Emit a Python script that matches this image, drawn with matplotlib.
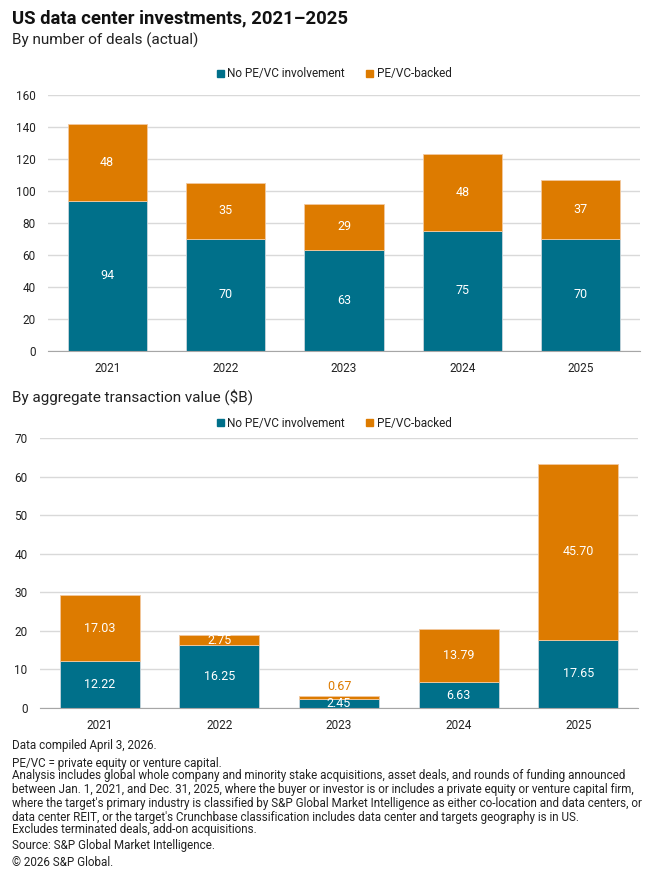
import matplotlib.pyplot as plt
from matplotlib.patches import Patch

plt.rcParams['font.family'] = ['Roboto', 'DejaVu Sans']

# Data
years = ['2021', '2022', '2023', '2024', '2025']
deals_no_pe = [94, 70, 63, 75, 70]
deals_pe = [48, 35, 29, 48, 37]
value_no_pe = [12.22, 16.25, 2.45, 6.63, 17.65]
value_pe = [17.03, 2.75, 0.67, 13.79, 45.70]

TEAL = '#00708a'
ORANGE = '#dd7b00'
GRID = '#d9d9d9'
TXT = '#222222'

W, H = 660, 877
fig = plt.figure(figsize=(W / 100, H / 100), dpi=100)


def px_axes(left, top, right, bottom):
    return fig.add_axes([left / W, 1 - bottom / H, (right - left) / W, (bottom - top) / H])


def draw_panel(ax, no_pe, pe, ymax, step, fmt, small_above=None):
    x = range(len(years))
    ax.bar(x, no_pe, width=0.67, color=TEAL, edgecolor='#c9d6dc', linewidth=0.6, zorder=3)
    ax.bar(x, pe, width=0.67, bottom=no_pe, color=ORANGE, edgecolor='#f2c9a0', linewidth=0.6, zorder=3)
    ax.set_xlim(-0.5, len(years) - 0.5)
    ax.set_ylim(0, ymax)
    ax.set_yticks(range(0, ymax + 1, step))
    ax.set_xticks(list(x))
    ax.set_xticklabels(years)
    ax.tick_params(length=0, labelsize=8.5, colors=TXT)
    ax.tick_params(axis='y', pad=9)
    ax.tick_params(axis='x', pad=8)
    ax.grid(axis='y', color=GRID, linewidth=1, zorder=0)
    for s in ['top', 'right', 'left']:
        ax.spines[s].set_visible(False)
    ax.spines['bottom'].set_color('#a6a6a6')
    ax.spines['bottom'].set_zorder(4)
    for i in x:
        ax.text(i, no_pe[i] / 2, fmt.format(no_pe[i]), ha='center', va='center',
                color='white', fontsize=9, zorder=5)
        if small_above is not None and pe[i] < small_above:
            ax.text(i, no_pe[i] + pe[i] + ymax * 0.012, fmt.format(pe[i]), ha='center',
                    va='bottom', color=ORANGE, fontsize=9, zorder=5)
        else:
            ax.text(i, no_pe[i] + pe[i] / 2, fmt.format(pe[i]), ha='center', va='center',
                    color='white', fontsize=9, zorder=5)
    handles = [Patch(color=TEAL, label='No PE/VC involvement'),
               Patch(color=ORANGE, label='PE/VC-backed')]
    return handles


# Titles
fig.text(12 / W, 1 - 18 / H, 'US data center investments, 2021\u20132025', fontsize=13.3,
         fontweight='bold', color='#111111', va='center')
fig.text(12 / W, 1 - 40 / H, 'By number of deals (actual)', fontsize=11, color=TXT, va='center')
fig.text(12 / W, 1 - 397 / H, 'By aggregate transaction value ($B)', fontsize=11, color=TXT, va='center')

ax1 = px_axes(48, 95, 640, 351)
h = draw_panel(ax1, deals_no_pe, deals_pe, 160, 20, '{:d}')
fig.legend(handles=h, loc='center', bbox_to_anchor=(334 / W, 1 - 74 / H), ncol=2, frameon=False,
           fontsize=8.5, handlelength=0.6, handleheight=0.6, handletextpad=0.3,
           columnspacing=1.8, labelcolor=TXT)

ax2 = px_axes(40, 438, 638, 708)
h = draw_panel(ax2, value_no_pe, value_pe, 70, 10, '{:.2f}', small_above=1.5)
fig.legend(handles=h, loc='center', bbox_to_anchor=(334 / W, 1 - 423 / H), ncol=2, frameon=False,
           fontsize=8.5, handlelength=0.6, handleheight=0.6, handletextpad=0.3,
           columnspacing=1.8, labelcolor=TXT)

# Footnotes
notes = [
    (745, 'Data compiled April 3, 2026.'),
    (763, 'PE/VC = private equity or venture capital.'),
    (776, 'Analysis includes global whole company and minority stake acquisitions, asset deals, and rounds of funding announced'),
    (790, 'between Jan. 1, 2021, and Dec. 31, 2025, where the buyer or investor is or includes a private equity or venture capital firm,'),
    (804, "where the target's primary industry is classified by S&P Global Market Intelligence as either co-location and data centers, or"),
    (818, "data center REIT, or the target's Crunchbase classification includes data center and targets geography is in US."),
    (830, 'Excludes terminated deals, add-on acquisitions.'),
    (846, 'Source: S&P Global Market Intelligence.'),
    (862, '\u00a9 2026 S&P Global.'),
]
for y, t in notes:
    fig.text(12 / W, 1 - y / H, t, fontsize=8.4, color=TXT, va='center')

fig.savefig('out.png', dpi=100, facecolor='white')
